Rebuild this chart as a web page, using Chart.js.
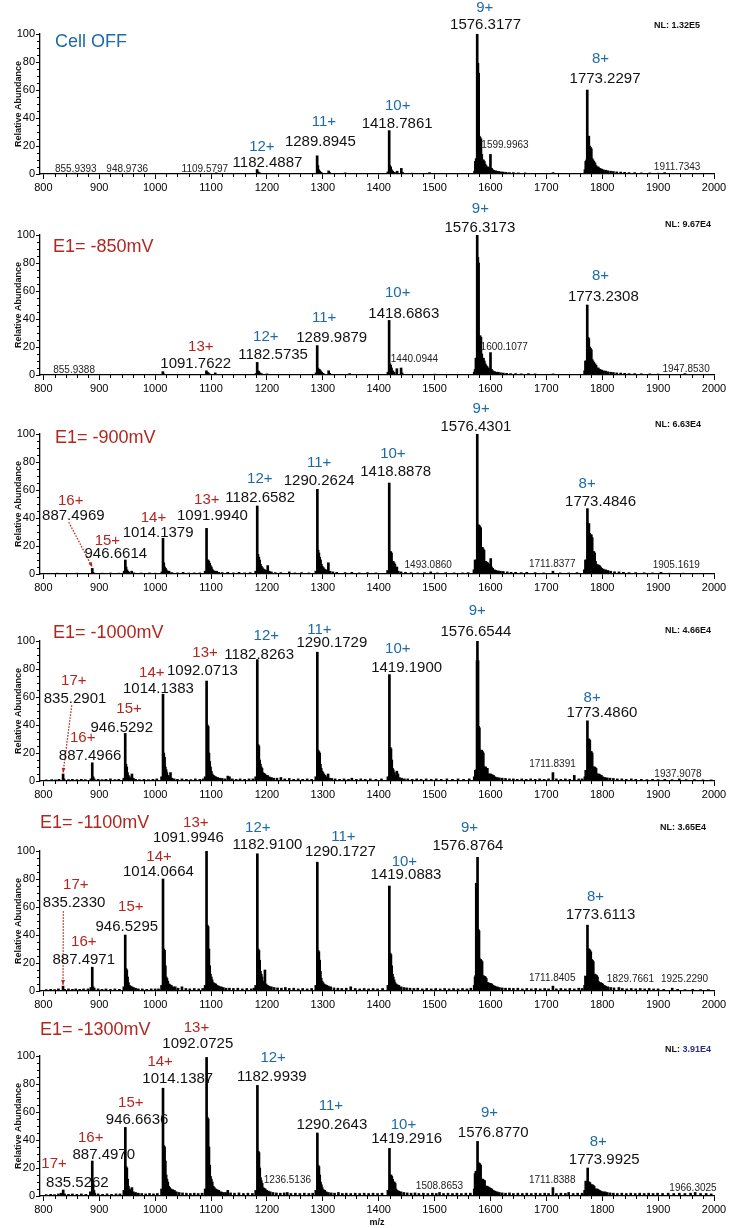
<!DOCTYPE html>
<html>
<head>
<meta charset="utf-8">
<script src="https://cdn.jsdelivr.net/npm/chart.js@4.4.1/dist/chart.umd.min.js"></script>
<style>
  html, body { margin: 0; padding: 0; background: #fff; }
  body { width: 734px; height: 1228px; position: relative; overflow: hidden; }
  .panel { position: absolute; left: 0; }
</style>
</head>
<body>
<script>
const X_TICKS = [800, 900, 1000, 1100, 1200, 1300, 1400, 1500, 1600, 1700, 1800, 1900, 2000];
const Y_TICKS = [0, 20, 40, 60, 80, 100];

const TITLES = ["Cell OFF", "E1= -850mV", "E1= -900mV", "E1= -1000mV", "E1= -1100mV", "E1= -1300mV"];
const NL_VALUES = ["1.32E5", "9.67E4", "6.63E4", "4.66E4", "3.65E4", "3.91E4"];

// spectra: [m/z, relative abundance]
const SPEC_OFF = [
  [855.9, 0.6], [880, 0.4], [949.0, 0.6], [1010, 0.4], [1060, 0.4], [1109.6, 0.9], [1150, 0.4],
  [1182.5, 3.2], [1184.5, 1.5], [1187, 0.8],
  [1289.9, 13], [1291.2, 6], [1292.8, 3], [1294.5, 2], [1297, 1.2], [1310.5, 2.2], [1312.5, 1], [1340, 0.8], [1370, 0.5],
  [1416.5, 1.5], [1418.8, 31], [1420, 6], [1421.5, 5], [1423, 3], [1425, 2], [1428, 1.2], [1433, 2], [1440.5, 4], [1442.5, 1.2],
  [1460, 0.6], [1491, 1], [1520, 0.5], [1545, 0.5],
  [1571.5, 2], [1573, 9], [1574.5, 11], [1576.3, 100], [1577.6, 79], [1578.9, 72], [1580.2, 27], [1581.6, 26], [1583, 25],
  [1584.5, 14], [1586, 10], [1587.5, 10], [1589, 9], [1590.5, 7], [1592, 6], [1594, 5], [1596, 5], [1598, 4], [1600, 14],
  [1602, 4], [1604, 3], [1606.5, 2.5], [1609, 2.2], [1612, 2], [1615, 1.8], [1619, 1.5], [1623, 1.4], [1628, 1.2], [1634, 1],
  [1641, 1], [1650, 0.8], [1662, 0.8], [1680, 0.5], [1700, 0.5], [1712, 1], [1735, 0.5],
  [1769, 3], [1770.5, 9], [1772, 10], [1773.2, 60], [1774.5, 27], [1776, 27], [1777.5, 20], [1779, 19], [1780.5, 18],
  [1782, 11], [1783.5, 10], [1785, 9], [1787, 8], [1789, 6], [1791, 5], [1793, 5], [1796, 4], [1799, 3.5], [1802, 3],
  [1806, 2.7], [1810, 2.3], [1815, 2], [1820, 1.8], [1826, 1.5], [1833, 1.4], [1840, 1.2], [1848, 1], [1858, 1],
  [1870, 0.8], [1885, 0.8], [1900, 0.6], [1911.7, 1], [1930, 0.5], [1960, 0.4]
];

const SPEC_850 = [
  [855.9, 0.6], [900, 0.4], [950, 0.4], [985, 0.4], [1013.8, 2.4], [1015.5, 0.8], [1050, 0.4],
  [1091.8, 3], [1093.5, 2], [1095, 1.5], [1097, 0.8], [1107.5, 1.5], [1140, 0.5],
  [1180.5, 1], [1182.6, 9], [1184, 3], [1185.5, 2.5], [1187.5, 1.5], [1190, 1], [1200, 0.8], [1230, 0.5], [1260, 0.5],
  [1288, 1.5], [1290.0, 21], [1291.3, 5], [1292.7, 4], [1294, 4], [1296, 3], [1298, 2], [1300.5, 1.2], [1310.5, 3],
  [1312.5, 1.2], [1348, 1], [1380, 0.5],
  [1416.5, 2], [1418.7, 39], [1420, 8], [1421.5, 7], [1423, 5], [1425, 3], [1427.5, 2], [1432.5, 4.5], [1440.1, 5],
  [1442, 1.5], [1470, 0.5], [1500, 0.6], [1540, 0.5],
  [1571, 2], [1572.5, 4], [1574, 12], [1575.2, 12], [1576.3, 100], [1577.5, 84], [1578.8, 80], [1580, 28], [1581.5, 28],
  [1583, 27], [1584.5, 15], [1586, 12], [1587.5, 12], [1589, 10], [1590.5, 8], [1592, 7], [1594, 6], [1596, 5], [1598, 4],
  [1600.1, 16], [1602, 4], [1604, 3], [1607, 2.5], [1610, 2], [1614, 2], [1618, 1.6], [1623, 1.4], [1629, 1.2], [1636, 1],
  [1645, 1], [1655, 0.8], [1668, 1], [1680, 0.8], [1695, 0.5], [1712, 0.8], [1740, 0.5],
  [1768.5, 3], [1770, 10], [1771.6, 10], [1773.2, 50], [1774.5, 27], [1776, 26], [1777.5, 20], [1779, 19], [1780.5, 18],
  [1782, 11], [1783.5, 10], [1785, 9], [1787, 8], [1789, 7], [1791, 5], [1793, 5], [1796, 4], [1799, 3.5], [1802, 3],
  [1806, 2.8], [1810, 2.3], [1815, 2], [1820, 1.8], [1826, 1.5], [1833, 1.4], [1840, 1.2], [1848, 1], [1858, 1],
  [1870, 0.9], [1885, 0.8], [1900, 0.7], [1920, 0.5], [1947.9, 1], [1970, 0.4]
];

const SPEC_900 = [
  [810, 0.5], [825, 0.6], [840, 0.5], [860, 0.6], [875, 0.5], [887.5, 4], [889, 1.2], [905, 0.6], [920, 0.7], [935, 0.6],
  [944.5, 2], [946.7, 10], [948, 5], [949.5, 3], [951, 2], [953, 1.4], [958, 2], [962, 0.8], [975, 0.7], [990, 0.8], [1000, 0.6],
  [1012, 1.5], [1014.1, 25.5], [1015.5, 8], [1017, 5], [1018.5, 4], [1020, 3], [1022, 2], [1025, 2], [1030, 1], [1040, 0.8],
  [1050, 1.2], [1060, 0.7], [1070, 0.8], [1080, 0.8],
  [1089.5, 2], [1092.0, 32.6], [1093.4, 10], [1094.8, 10], [1096.2, 9], [1097.6, 7.6], [1099, 6], [1100.5, 5], [1102, 3.5],
  [1104, 2.5], [1106.5, 2], [1110, 2], [1114, 1.2], [1120, 1], [1130, 1.2], [1140, 0.8], [1150, 1.2], [1160, 0.8], [1170, 1],
  [1180, 2], [1182.7, 48.6], [1184, 14], [1185.5, 12], [1187, 10], [1188.5, 7], [1190, 5.5], [1192, 4.5], [1194, 3.5],
  [1196.5, 3], [1199.5, 2.5], [1201.5, 6], [1204, 2], [1208, 1.5], [1215, 1], [1225, 1], [1240, 1.5], [1250, 0.8],
  [1262, 1], [1275, 0.8],
  [1287.5, 2], [1290.3, 60.5], [1291.6, 17], [1293, 15], [1294.5, 12], [1296, 10], [1297.5, 7], [1299, 5.5], [1301, 4.5],
  [1303, 3.5], [1305.5, 3], [1310, 8], [1313, 2], [1318, 1.5], [1325, 1.2], [1340, 1], [1352, 1.2], [1365, 0.8], [1380, 1],
  [1395, 0.8],
  [1416, 2.5], [1418.9, 65], [1420.2, 16], [1421.6, 16], [1423, 15], [1424.5, 9], [1426, 9], [1427.5, 8], [1429, 7],
  [1431, 4], [1432.5, 5], [1435, 2], [1440, 1.5], [1448, 1.2], [1458, 1], [1470, 0.8], [1482, 1], [1493.1, 1.5], [1505, 0.8],
  [1520, 1], [1535, 0.8], [1550, 0.8], [1560, 1],
  [1570.5, 3], [1572.5, 10], [1574.5, 10], [1576.4, 100], [1578, 35], [1579.5, 35], [1581, 34], [1582.5, 33], [1584, 19],
  [1585.5, 19], [1587, 18], [1588.5, 17], [1590, 9], [1591.5, 9], [1593, 8.5], [1595, 8], [1597, 7], [1599, 5], [1600.5, 11],
  [1602, 5], [1604, 4], [1607, 3], [1610, 2.5], [1614, 2.2], [1618, 2], [1623, 1.8], [1630, 1.5], [1637, 1.2], [1645, 1.2],
  [1655, 1], [1665, 1.2], [1680, 1], [1695, 0.8], [1711.8, 2], [1725, 0.8], [1740, 0.8], [1755, 1],
  [1768, 3], [1770, 10], [1771.6, 10], [1773.5, 46.7], [1774.8, 36], [1776.2, 36], [1777.6, 29], [1779, 28], [1780.5, 28],
  [1782, 26], [1783.5, 16], [1785, 16], [1786.5, 15], [1788, 9], [1789.5, 7], [1791, 6.5], [1793, 6.5], [1795, 6],
  [1797, 5], [1799, 4], [1802, 3.5], [1806, 3], [1810, 2.5], [1815, 2], [1822, 1.6], [1830, 1.5], [1838, 1.2], [1848, 1],
  [1860, 1], [1875, 0.9], [1890, 0.8], [1905.2, 1.2], [1920, 0.6], [1945, 0.6], [1975, 0.5]
];

const SPEC_1000 = [
  [805, 0.8], [815, 1], [822, 0.8], [828, 1.2], [835.3, 5], [837, 1.5], [845, 1], [852, 1.2], [860, 1], [868, 1.2],
  [875, 1], [885, 1.5], [887.5, 13], [889, 3], [891, 1.5], [898, 1.2], [905, 1], [912, 1.2], [920, 1.5], [928, 1], [935, 1.2],
  [944, 2], [946.5, 34], [947.8, 12], [949.2, 10], [950.6, 6], [952, 4], [954, 3], [956, 2], [958.5, 5], [961, 2], [965, 1.2],
  [972, 1], [980, 1.2], [988, 1], [996, 1.2], [1003, 1.5],
  [1011.5, 3], [1014.1, 62], [1015.5, 20], [1016.9, 17], [1018.3, 10], [1019.7, 8], [1021, 6], [1023, 4], [1025, 3],
  [1027.5, 6], [1030, 2], [1034, 1.5], [1040, 1.2], [1048, 1.5], [1056, 1.2], [1064, 1], [1072, 1.5], [1080, 1.2], [1086, 1.5],
  [1089.5, 3], [1092.1, 71.4], [1093.5, 40], [1094.9, 39], [1096.3, 20], [1097.7, 14], [1099.1, 10], [1100.6, 7],
  [1102.2, 5], [1104, 4], [1106, 3.5], [1108.5, 3], [1112, 2.5], [1116, 2], [1120, 1.8], [1125, 1.5], [1130, 3.5],
  [1133, 3], [1138, 1.5], [1145, 1.2], [1152, 1.5], [1160, 1.2], [1168, 1.5], [1175, 1.5],
  [1180, 3], [1182.8, 86.7], [1184.2, 26], [1185.6, 25], [1187, 15], [1188.4, 12], [1189.8, 10], [1191.2, 9], [1192.7, 6],
  [1194.5, 5.5], [1196.5, 5], [1198.5, 4], [1201, 4], [1204, 3], [1208, 2.5], [1212, 2], [1218, 2], [1225, 2.5],
  [1232, 1.5], [1240, 1.8], [1248, 1.2], [1256, 1.5], [1264, 1.2], [1272, 1.5], [1280, 1.2],
  [1287.5, 3], [1290.2, 92], [1291.6, 22], [1293, 21], [1294.4, 20], [1295.8, 12], [1297.2, 9], [1298.7, 7], [1300.3, 6],
  [1302, 5], [1304, 4], [1306, 3], [1309.5, 5], [1312, 2], [1316, 1.8], [1322, 1.5], [1330, 1.2], [1338, 1.5], [1346, 1.2],
  [1352, 2], [1360, 1.2], [1368, 1.5], [1376, 1.2], [1385, 1.5], [1395, 1.2], [1405, 1.5],
  [1416.5, 3], [1419.2, 76], [1420.6, 24], [1422, 23], [1423.4, 15], [1424.8, 9], [1426.2, 8], [1428, 6], [1430, 4],
  [1432.5, 7], [1434.5, 5], [1437, 2.5], [1441, 2], [1446, 1.5], [1452, 1.5], [1460, 1.2], [1468, 1.5], [1476, 1.2],
  [1485, 1.5], [1494, 1.2], [1503, 1.5], [1512, 1.2], [1522, 1.5], [1532, 1.2], [1542, 1.5], [1552, 1.2], [1562, 1.5],
  [1571, 3], [1573, 7.6], [1574.8, 8], [1576.0, 86], [1576.7, 100], [1577.8, 86], [1578.8, 39], [1580.2, 38], [1581.6, 22],
  [1583, 22], [1584.4, 22], [1585.8, 21], [1587.2, 20], [1588.6, 10], [1590, 10], [1591.5, 10], [1593, 9], [1594.5, 9],
  [1596.5, 5], [1598.5, 5], [1600.5, 5], [1603, 4.5], [1605.5, 4], [1608, 3], [1612, 2.5], [1616, 2.2], [1621, 2],
  [1627, 1.8], [1634, 1.5], [1641, 1.5], [1648, 1.2], [1656, 1.5], [1664, 1.2], [1672, 1.5], [1680, 1.2], [1688, 1.5],
  [1696, 1.2], [1704, 1.5], [1711.8, 6], [1718, 1.5], [1726, 1.2], [1734, 1.5], [1742, 1.2], [1750, 4], [1758, 1.5], [1764, 1.5],
  [1769, 3], [1770.5, 7.6], [1772, 7.6], [1773.5, 43], [1775, 30], [1776.4, 30], [1777.8, 29], [1779.2, 21], [1780.6, 21],
  [1782, 20], [1783.4, 10], [1784.8, 10], [1786.2, 10], [1787.6, 9.5], [1789, 9], [1790.5, 5], [1792, 5], [1794, 5],
  [1796, 4.5], [1798.5, 4], [1801, 3], [1805, 2.5], [1809, 2.2], [1814, 2], [1820, 1.8], [1827, 1.5], [1835, 1.5],
  [1843, 1.2], [1852, 1.5], [1860, 1.2], [1870, 1.2], [1880, 1], [1890, 1.2], [1900, 1], [1912, 1.2], [1925, 1],
  [1937.9, 1.5], [1950, 1], [1965, 1], [1980, 0.8], [1995, 0.8]
];

const SPEC_1100 = [
  [805, 1], [813, 1.2], [820, 1], [827, 1.5], [835.2, 3.5], [838, 1.2], [845, 1.5], [852, 1.2], [858, 1.5], [865, 1.2],
  [872, 1.5], [880, 1.5], [885, 2.5], [887.5, 17], [889, 3], [891, 2], [898, 1.5], [905, 1.2], [912, 1.5], [920, 1.2],
  [928, 1.5], [936, 1.2],
  [944, 3], [946.5, 40], [947.9, 16], [949.3, 15], [950.7, 10], [952.2, 6], [954, 4], [956, 3.5], [958.5, 3], [961, 2.5],
  [965, 2], [970, 1.5], [977, 1.5], [985, 1.2], [993, 1.5], [1000, 1.5], [1006, 1.5],
  [1011.5, 4], [1014.1, 80], [1015.5, 30], [1016.9, 29], [1018.3, 18], [1019.7, 10], [1021.1, 9], [1022.7, 7], [1024.5, 5],
  [1026.5, 4.5], [1029, 4], [1032, 3], [1036, 3], [1041, 2], [1048, 3], [1055, 1.8], [1062, 1.5], [1070, 1.8], [1078, 1.5],
  [1085, 1.8],
  [1089.5, 4], [1092.0, 100], [1093.4, 47], [1094.8, 46], [1096.2, 30], [1097.6, 18], [1099, 12], [1100.5, 10], [1102, 8],
  [1104, 6], [1106, 5.5], [1108.5, 5], [1111, 4], [1114, 3.5], [1118, 3], [1122, 2.5], [1127, 2], [1133, 2], [1140, 1.8],
  [1148, 2], [1156, 1.5], [1164, 1.8], [1172, 1.5], [1177, 2],
  [1180, 4], [1182.9, 98], [1184.3, 30], [1185.7, 29], [1187.1, 22], [1188.5, 14], [1189.9, 12], [1191.3, 10], [1193, 7],
  [1194.7, 6], [1196.5, 15], [1198.5, 5], [1201, 4], [1204, 3.5], [1208, 3], [1213, 2.5], [1219, 2.2], [1226, 2],
  [1233, 2.5], [1240, 1.8], [1248, 2], [1256, 1.5], [1264, 1.8], [1272, 1.5], [1280, 1.8],
  [1287.5, 4], [1290.2, 92], [1291.6, 29], [1293, 28], [1294.4, 22], [1295.8, 14], [1297.2, 9], [1298.7, 7], [1300.3, 6],
  [1302, 5], [1304.5, 4.5], [1307, 4], [1310, 3.5], [1314, 3], [1320, 2.2], [1327, 2], [1334, 1.8], [1342, 2], [1350, 3],
  [1358, 1.8], [1366, 1.5], [1374, 1.8], [1382, 1.5], [1390, 1.8], [1398, 1.5], [1407, 1.8],
  [1416.5, 4], [1419.1, 75], [1420.5, 27], [1421.9, 26], [1423.3, 18], [1424.7, 12], [1426.1, 10], [1427.6, 8], [1429.2, 6],
  [1431, 5], [1433, 4.5], [1436, 4], [1440, 3], [1445, 2.5], [1450, 2.2], [1456, 2], [1463, 1.8], [1470, 2], [1478, 1.5],
  [1486, 1.8], [1494, 1.5], [1502, 1.8], [1510, 1.5], [1518, 1.8], [1526, 1.5], [1534, 1.8], [1542, 1.5], [1550, 1.8],
  [1558, 1.5], [1565, 2],
  [1571, 4], [1572.5, 10], [1573.5, 11], [1574.6, 77], [1575.8, 76], [1576.9, 95.5], [1578.2, 44], [1579.5, 43], [1580.8, 23],
  [1582.2, 22.5], [1583.6, 22], [1585, 21], [1586.5, 11], [1588, 10.7], [1589.5, 10.5], [1591, 10], [1592.5, 9], [1594, 6],
  [1596, 6], [1598, 5.5], [1600, 5.5], [1602.5, 5], [1605, 4], [1608, 3.5], [1612, 3], [1616, 2.5], [1621, 2.2], [1627, 2],
  [1634, 2], [1641, 1.8], [1649, 2], [1657, 1.5], [1665, 1.8], [1673, 1.5], [1681, 1.8], [1689, 1.5], [1697, 1.8],
  [1704, 1.5], [1711.8, 3.5], [1718, 1.5], [1726, 1.8], [1734, 1.5], [1742, 1.8], [1750, 1.5], [1758, 2], [1764, 1.8],
  [1768.5, 4], [1770, 10.7], [1771.5, 10.5], [1773.6, 47], [1775, 30], [1776.5, 30], [1778, 29], [1779.5, 28], [1781, 22.5],
  [1782.5, 22], [1784, 21], [1785.5, 12], [1787, 12], [1788.5, 11.5], [1790, 11], [1791.5, 10], [1793, 7], [1795, 6],
  [1797, 6], [1799, 5.5], [1801, 5], [1803.5, 4], [1806, 3.5], [1810, 3], [1815, 2.5], [1821, 2.2], [1829.8, 2.5],
  [1836, 1.8], [1844, 1.5], [1852, 1.8], [1860, 1.5], [1868, 1.8], [1876, 1.5], [1884, 1.8], [1892, 1.5], [1900, 1.5],
  [1910, 1.2], [1925.2, 2], [1935, 1.2], [1948, 1], [1962, 1.2], [1976, 1], [1990, 1]
];

const SPEC_1300 = [
  [805, 1], [813, 1.2], [820, 1], [827, 1.5], [832, 2], [835.5, 4.3], [838, 1.5], [845, 1.2], [852, 1.5], [860, 1.2],
  [868, 1.5], [876, 1.2], [884, 3], [887.5, 25], [889, 8], [890.5, 4], [892, 2], [898, 1.5], [906, 1.2], [914, 1.5],
  [922, 1.2], [930, 1.5], [937, 1.5],
  [944, 4], [946.7, 49], [948, 21], [949.4, 20], [950.8, 12], [952.3, 7], [954, 5], [956, 4], [958.5, 6], [961, 3],
  [965, 2.5], [970, 2], [976, 1.8], [983, 1.5], [990, 1.8], [997, 1.5], [1004, 1.8],
  [1011.5, 5], [1014.1, 77], [1015.5, 36], [1016.9, 35], [1018.3, 25], [1019.7, 15], [1021.1, 12], [1022.6, 10],
  [1024.3, 7], [1026, 6], [1028.5, 5], [1031.5, 4.5], [1034.5, 4], [1038, 3], [1043, 2.5], [1049, 2.2], [1056, 2],
  [1063, 1.8], [1070, 2], [1077, 1.8], [1084, 2],
  [1089.5, 5], [1092.1, 99], [1093.5, 56], [1094.9, 55], [1096.3, 35], [1097.7, 22], [1099.1, 14], [1100.6, 12],
  [1102.2, 10], [1104, 7], [1106, 6], [1108.5, 5], [1111, 4.5], [1114, 4], [1118, 3], [1122, 2.5], [1126, 2.5], [1130, 4],
  [1135, 2.2], [1142, 2], [1150, 2.2], [1158, 1.8], [1166, 2], [1174, 1.8],
  [1180, 4], [1183.0, 79], [1184.4, 32], [1185.8, 31], [1187.2, 20], [1188.6, 13], [1190, 11], [1191.5, 9], [1193.2, 6],
  [1195, 5.5], [1197, 5], [1199.5, 4], [1202.5, 3.5], [1206, 3], [1211, 2.5], [1217, 2.2], [1224, 2], [1231, 2.2],
  [1236.5, 2.5], [1243, 1.8], [1251, 2], [1259, 1.8], [1267, 2], [1275, 1.8], [1282, 2],
  [1287.5, 4], [1290.3, 45], [1291.7, 22], [1293.1, 21], [1294.5, 15], [1296, 10], [1297.5, 8], [1299, 6], [1301, 4.5],
  [1303.5, 4], [1306, 3], [1310, 2.5], [1315, 2.2], [1321, 2], [1328, 2.5], [1335, 1.8], [1342, 2], [1350, 1.8],
  [1358, 2], [1366, 1.8], [1374, 2], [1382, 1.8], [1390, 2], [1398, 1.8], [1406, 2],
  [1416.5, 4], [1419.3, 34], [1420.7, 15], [1422.1, 15], [1423.5, 14], [1425, 12], [1426.5, 10], [1428, 10], [1429.5, 9],
  [1431, 5], [1433, 4], [1436, 3.5], [1440, 3], [1445, 2.5], [1451, 2.2], [1458, 2], [1465, 2.2], [1472, 1.8], [1480, 2],
  [1488, 1.8], [1496, 2], [1503, 1.8], [1508.9, 2.5], [1516, 1.8], [1524, 2], [1532, 1.8], [1540, 2], [1548, 1.8],
  [1556, 2], [1564, 2],
  [1571, 5], [1572.5, 16], [1574, 17.7], [1575.5, 17.7], [1576.9, 39], [1578.2, 23.6], [1579.6, 23.6], [1581, 23],
  [1582.4, 22], [1583.8, 12], [1585.2, 12], [1586.6, 12], [1588, 11], [1589.5, 11], [1591, 7], [1592.5, 7], [1594, 7],
  [1596, 6.5], [1598, 6], [1600, 5.5], [1602.5, 5], [1605, 4], [1608, 3.5], [1612, 3], [1616, 2.5], [1621, 2.2],
  [1627, 2], [1634, 2.2], [1641, 1.8], [1649, 2], [1657, 1.8], [1665, 2], [1673, 1.8], [1681, 2], [1689, 1.8], [1697, 2],
  [1704, 1.8], [1711.8, 6], [1718, 1.8], [1726, 2], [1734, 1.8], [1740, 2.5], [1748, 1.8], [1756, 2], [1764, 2],
  [1768.5, 4], [1770.5, 10.6], [1772, 10.6], [1774.0, 20], [1775.3, 10], [1776.7, 10], [1778, 9.5], [1779.5, 8], [1781, 8],
  [1782.5, 8], [1784, 7.5], [1785.5, 7], [1787, 5], [1789, 5], [1791, 5], [1793, 4.5], [1795, 4], [1798, 3.5], [1801, 3],
  [1805, 3], [1809, 2.5], [1814, 2.2], [1820, 2], [1827, 1.8], [1835, 2], [1843, 1.8], [1851, 2], [1859, 1.8], [1867, 2],
  [1875, 1.8], [1883, 2], [1891, 1.8], [1899, 2], [1908, 1.8], [1918, 2], [1928, 1.8], [1938, 2], [1948, 1.8], [1958, 2],
  [1966.3, 2.5], [1976, 1.8], [1986, 1.8], [1995, 1.5]
];

// charge-state labels: [charge, charge m/z, charge abundance, mass text, mass m/z, mass abundance]
const IONS_OFF = [
  ["12+", 1191, 16.4, "1182.4887", 1201, 5.2],
  ["11+", 1302, 34.3, "1289.8945", 1295.6, 20.2],
  ["10+", 1434, 45.7, "1418.7861", 1433, 32.6],
  ["9+", 1589.7, 116, "1576.3177", 1591.2, 103.3],
  ["8+", 1797, 79, "1773.2297", 1805, 64.8]
];
const IONS_850 = [
  ["13+", 1081.7, 17.4, "1091.7622", 1072.7, 4.8],
  ["12+", 1198, 24.5, "1182.5735", 1211, 11.2],
  ["11+", 1302.4, 38.1, "1289.9879", 1316, 23.8],
  ["10+", 1434, 55.9, "1418.6863", 1445, 40.5],
  ["9+", 1582, 115.5, "1576.3173", 1581, 102.4],
  ["8+", 1797, 67.9, "1773.2308", 1802, 53.1]
];
const IONS_900 = [
  ["16+", 849, 49.3, "887.4969", 853.7, 38.6],
  ["15+", 914.6, 20.7, "946.6614", 929.6, 11.2],
  ["14+", 997, 37.4, "1014.1379", 1005.3, 26.7],
  ["13+", 1092.5, 50, "1091.9940", 1102.5, 38.6],
  ["12+", 1187.3, 65.2, "1182.6582", 1187.9, 51.7],
  ["11+", 1293.5, 76.7, "1290.2624", 1293.5, 63.6],
  ["10+", 1425.4, 82.6, "1418.8878", 1430.4, 70],
  ["9+", 1583.4, 115, "1576.4301", 1574, 102.4],
  ["8+", 1773, 61.2, "1773.4846", 1797, 48.6]
];
const IONS_1000 = [
  ["17+", 854.4, 68.6, "835.2901", 856.7, 55.9],
  ["16+", 870.5, 28.1, "887.4966", 883.6, 15],
  ["15+", 953.4, 48.4, "946.5292", 940.3, 35.2],
  ["14+", 994, 74.5, "1014.1383", 1005.9, 62.6],
  ["13+", 1089.4, 88.8, "1092.0713", 1084.6, 75.7],
  ["12+", 1199, 100.7, "1182.8263", 1186, 86.9],
  ["11+", 1294, 105, "1290.1729", 1316.2, 95.5],
  ["10+", 1434.3, 91.6, "1419.1900", 1450, 78.1],
  ["9+", 1576.3, 118.6, "1576.6544", 1574, 103.6],
  ["8+", 1782, 56.6, "1773.4860", 1799.5, 45.9]
];
const IONS_1100 = [
  ["17+", 858, 72.9, "835.2330", 855, 59.8],
  ["16+", 872.3, 32.4, "887.4971", 872.3, 19.3],
  ["15+", 956.4, 57.4, "946.5295", 949.3, 43.1],
  ["14+", 1007, 93.1, "1014.0664", 1005.9, 82.4],
  ["13+", 1072.8, 116.9, "1091.9946", 1059.5, 106.2],
  ["12+", 1183.7, 113.4, "1182.9100", 1201, 101.4],
  ["11+", 1337, 107.4, "1290.1727", 1331.6, 96.6],
  ["10+", 1446, 89.5, "1419.0883", 1448.9, 80],
  ["9+", 1562.5, 113.4, "1576.8764", 1559.6, 100.7],
  ["8+", 1788, 64.1, "1773.6113", 1797, 51.4]
];
const IONS_1300 = [
  ["17+", 819.2, 19.8, "835.5262", 860.9, 6.2],
  ["16+", 884.8, 38.8, "887.4970", 908.1, 26.4],
  ["15+", 956.4, 63.3, "946.6636", 967.7, 51.4],
  ["14+", 1008.9, 93.1, "1014.1387", 1040.5, 80.7],
  ["13+", 1073.9, 116.9, "1092.0725", 1076.3, 105.5],
  ["12+", 1211.1, 95.9, "1182.9939", 1208.8, 82.4],
  ["11+", 1314.4, 61.7, "1290.2643", 1316.2, 47.9],
  ["10+", 1444.4, 47.9, "1419.2916", 1450.1, 37.9],
  ["9+", 1598.3, 56.2, "1576.8770", 1605, 41.9],
  ["8+", 1792.8, 35.5, "1773.9925", 1803.6, 22.9]
];

// small peak labels: [text, m/z, abundance]
const SMALL_OFF = [["855.9393", 858, 1.6], ["948.9736", 950, 1.6], ["1109.5797", 1089, 1.6], ["1599.9963", 1626, 18.8], ["1911.7343", 1934, 2.9]];
const SMALL_850 = [["855.9388", 855, 1.7], ["1440.0944", 1464, 9.5], ["1600.1077", 1624.6, 17.9], ["1947.8530", 1950, 2.4]];
const SMALL_900 = [["1493.0860", 1488.6, 4], ["1711.8377", 1710.5, 5.2], ["1905.1619", 1932.5, 4]];
const SMALL_1000 = [["1711.8391", 1711, 9.8], ["1937.9078", 1935.5, 3.1]];
const SMALL_1100 = [["1711.8405", 1710.5, 7.4], ["1829.7661", 1850.6, 6.2], ["1925.2290", 1947.3, 6.2]];
const SMALL_1300 = [["1236.5136", 1236.7, 9.3], ["1508.8653", 1508.8, 5], ["1711.8388", 1710.5, 9.3], ["1966.3025", 1962.4, 3.8]];

// dotted leaders from a label to its peak: [from m/z, from abundance, to m/z, to abundance]
const LEADERS_900 = [[845.5, 37, 887.5, 5]];
const LEADERS_1000 = [[850.8, 54, 835.3, 6]];
const LEADERS_1100 = [[835.8, 57, 835.2, 4.5]];

// page layout (pixels)
const PLOT_TOP = [34, 235, 434, 641, 851, 1056];
const TITLE_POS = [[55, 13], [53, 17], [55, 9], [53, -3], [40, -23], [40, -21]];
const NL_POS = [[654, -6], [665, -8], [655, -7], [665, -8], [660, -21], [665, -4]];
const PAD_TOP = 40;
const PLOT_H = 140;

const BLUE = "#1c6aa8";
const RED = "#b3261f";
const FONT = "'Liberation Sans', Arial, Helvetica, sans-serif";

const panels = [
  { spec: SPEC_OFF, ions: IONS_OFF, small: SMALL_OFF, leaders: [], color: BLUE },
  { spec: SPEC_850, ions: IONS_850, small: SMALL_850, leaders: [], color: RED },
  { spec: SPEC_900, ions: IONS_900, small: SMALL_900, leaders: LEADERS_900, color: RED },
  { spec: SPEC_1000, ions: IONS_1000, small: SMALL_1000, leaders: LEADERS_1000, color: RED },
  { spec: SPEC_1100, ions: IONS_1100, small: SMALL_1100, leaders: LEADERS_1100, color: RED },
  { spec: SPEC_1300, ions: IONS_1300, small: SMALL_1300, leaders: [], color: RED }
];

const minorTicks = {
  id: "minorTicks",
  afterDraw(chart) {
    const { ctx, scales: { x, y } } = chart;
    ctx.save();
    ctx.strokeStyle = "#000";
    ctx.lineWidth = 1;
    ctx.beginPath();
    for (let v = 820; v < 2000; v += 20) {
      if (v % 100 === 0) continue;
      const px = Math.round(x.getPixelForValue(v)) + 0.5;
      ctx.moveTo(px, y.bottom);
      ctx.lineTo(px, y.bottom + 3);
    }
    for (let v = 5; v < 100; v += 5) {
      if (v % 20 === 0) continue;
      const py = Math.round(y.getPixelForValue(v)) + 0.5;
      ctx.moveTo(x.left, py);
      ctx.lineTo(x.left - 3, py);
    }
    ctx.stroke();
    ctx.restore();
  }
};

function textPlugin(panel, i) {
  return {
    id: "peakText",
    afterDatasetsDraw(chart) {
      const { ctx, chartArea, scales: { x, y } } = chart;
      const px = (v) => x.getPixelForValue(v);
      const py = (v) => y.getPixelForValue(v);
      ctx.save();

      panel.leaders.forEach(([x0, y0, x1, y1]) => {
        const ax = px(x0), ay = py(y0), bx = px(x1), by = py(y1);
        ctx.strokeStyle = RED;
        ctx.lineWidth = 1.3;
        ctx.setLineDash([1.5, 1.5]);
        ctx.beginPath();
        ctx.moveTo(ax, ay);
        ctx.lineTo(bx, by);
        ctx.stroke();
        ctx.setLineDash([]);
        const ang = Math.atan2(by - ay, bx - ax);
        ctx.fillStyle = RED;
        ctx.beginPath();
        ctx.moveTo(bx, by);
        ctx.lineTo(bx - 5 * Math.cos(ang - 0.4), by - 5 * Math.sin(ang - 0.4));
        ctx.lineTo(bx - 5 * Math.cos(ang + 0.4), by - 5 * Math.sin(ang + 0.4));
        ctx.closePath();
        ctx.fill();
      });

      ctx.textAlign = "center";
      ctx.textBaseline = "alphabetic";
      ctx.font = `15px ${FONT}`;
      panel.ions.forEach(([charge, cx, cy, mass, mx, my]) => {
        ctx.fillStyle = parseInt(charge, 10) >= 13 ? RED : BLUE;
        ctx.fillText(charge, px(cx), py(cy));
        ctx.fillStyle = "#111";
        ctx.fillText(mass, px(mx), py(my));
      });

      ctx.font = `10px ${FONT}`;
      ctx.fillStyle = "#222";
      panel.small.forEach(([text, mx, my]) => ctx.fillText(text, px(mx), py(my)));

      ctx.textAlign = "left";
      ctx.font = `18px ${FONT}`;
      ctx.fillStyle = panel.color;
      ctx.fillText(TITLES[i], TITLE_POS[i][0], chartArea.top + TITLE_POS[i][1]);

      ctx.font = `bold 9px ${FONT}`;
      ctx.fillStyle = "#111";
      const nlX = NL_POS[i][0], nlY = chartArea.top + NL_POS[i][1];
      ctx.fillText("NL: ", nlX, nlY);
      ctx.fillStyle = i === 5 ? "#2b2f7a" : "#111";
      ctx.fillText(NL_VALUES[i], nlX + ctx.measureText("NL: ").width, nlY);

      ctx.restore();
    }
  };
}

panels.forEach((panel, i) => {
  const last = i === panels.length - 1;
  const xAxisH = last ? 32 : 30;
  const canvas = document.createElement("canvas");
  canvas.className = "panel";
  canvas.width = 734;
  canvas.height = PAD_TOP + PLOT_H + xAxisH;
  canvas.style.top = (PLOT_TOP[i] - PAD_TOP) + "px";
  document.body.appendChild(canvas);

  new Chart(canvas, {
    type: "bar",
    data: {
      datasets: [{
        data: panel.spec.map(([mz, ab]) => ({ x: mz, y: ab })),
        backgroundColor: "#000",
        borderWidth: 0,
        barThickness: 2
      }]
    },
    options: {
      responsive: false,
      animation: false,
      devicePixelRatio: 1,
      layout: { padding: { top: PAD_TOP, right: 20, left: 0, bottom: 0 } },
      plugins: { legend: { display: false }, tooltip: { enabled: false } },
      scales: {
        x: {
          type: "linear",
          min: 794,
          max: 2000,
          offset: false,
          afterBuildTicks: (axis) => { axis.ticks = X_TICKS.map((v) => ({ value: v })); },
          afterFit: (axis) => { axis.height = xAxisH; },
          grid: { drawOnChartArea: false, offset: false, tickLength: 5, color: "#000", lineWidth: 1 },
          border: { color: "#000", width: 1.3 },
          ticks: {
            color: "#000",
            font: { family: FONT, size: 11 },
            padding: 2,
            maxRotation: 0,
            autoSkip: false,
            callback: (v) => String(v)
          },
          title: {
            display: last,
            text: "m/z",
            color: "#111",
            font: { family: FONT, size: 9, weight: "bold" },
            padding: { top: 0, bottom: 0 }
          }
        },
        y: {
          min: 0,
          max: 100,
          afterBuildTicks: (axis) => { axis.ticks = Y_TICKS.map((v) => ({ value: v })); },
          afterFit: (axis) => { axis.width = 40; },
          grid: { drawOnChartArea: false, tickLength: 4, color: "#000", lineWidth: 1 },
          border: { color: "#000", width: 1.3 },
          ticks: {
            color: "#000",
            font: { family: FONT, size: 11 },
            padding: 1,
            callback: (v) => String(v)
          },
          title: {
            display: true,
            text: "Relative Abundance",
            color: "#111",
            font: { family: FONT, size: 9, weight: "bold" },
            padding: { top: 13, bottom: 0 }
          }
        }
      }
    },
    plugins: [minorTicks, textPlugin(panel, i)]
  });
});
</script>
</body>
</html>
